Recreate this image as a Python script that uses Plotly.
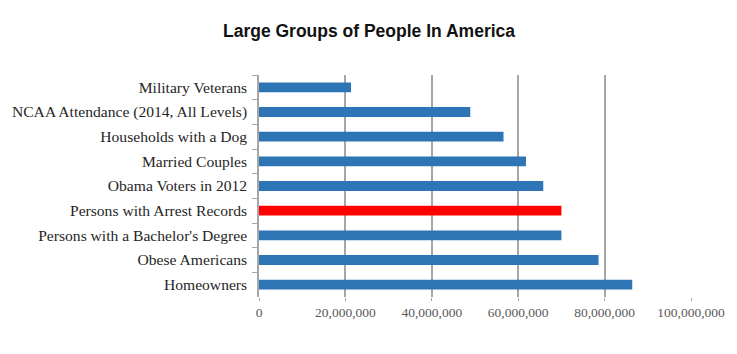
import plotly.graph_objects as go

categories = [
    "Military Veterans",
    "NCAA Attendance (2014, All Levels)",
    "Households with a Dog",
    "Married Couples",
    "Obama Voters in 2012",
    "Persons with Arrest Records",
    "Persons with a Bachelor's Degree",
    "Obese Americans",
    "Homeowners",
]
values = [21300000, 48900000, 56600000, 61800000, 65800000, 70000000, 70000000, 78600000, 86400000]
highlight = "Persons with Arrest Records"
tick_vals = [0, 20000000, 40000000, 60000000, 80000000, 100000000]

colors = ["#FF0000" if c == highlight else "#2E75B6" for c in categories]

fig = go.Figure(go.Bar(
    x=values, y=categories, orientation="h",
    marker=dict(color=colors, line=dict(width=0)),
    width=0.4,
))

fig.update_layout(
    width=737, height=354,
    paper_bgcolor="white", plot_bgcolor="white",
    margin=dict(l=259, r=42, t=75, b=57),
    title=dict(text="<b>Large Groups of People In America</b>", x=369/737, xanchor="center",
               y=1 - 31/354, yanchor="middle",
               font=dict(family="Liberation Sans, Arial", size=17.5, color="#111111")),
    showlegend=False,
    bargap=0.6,
)
fig.update_xaxes(
    range=[0, 100000000], tickvals=tick_vals, tickformat=",d",
    showgrid=True, gridcolor="#A6A6A6", gridwidth=1.5,
    zeroline=False, showline=False,
    ticks="outside", ticklen=3, tickcolor="#A6A6A6",
    tickfont=dict(family="Liberation Serif, Times New Roman", size=13.5, color="#595959"),
)
fig.update_yaxes(
    autorange="reversed", showgrid=False, zeroline=False,
    showline=True, linecolor="#A6A6A6", linewidth=1.5,
    ticks="outside", tickson="boundaries", ticklen=5, tickcolor="#A6A6A6",
    tickfont=dict(family="Liberation Serif, Times New Roman", size=15.6, color="#262626"),
    ticklabelstandoff=7,
)

fig.write_html("out.html")
